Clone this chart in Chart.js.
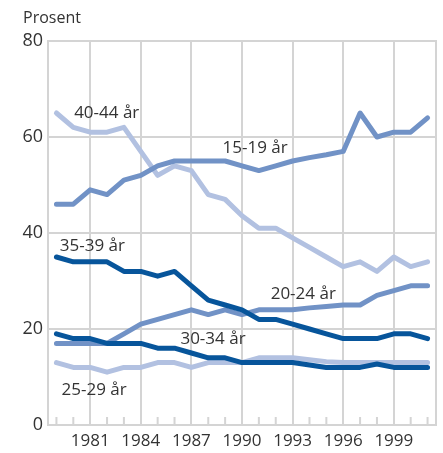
<!DOCTYPE html>
<html>
<head>
<meta charset="utf-8">
<script src="https://cdn.jsdelivr.net/npm/chart.js@4"></script>
<style>
  html, body { margin: 0; padding: 0; background: #fff; }
  #wrap { width: 443px; height: 453px; }
</style>
</head>
<body>
<div id="wrap"><canvas id="chart"></canvas></div>
<script>
// Andel i prosent etter aldersgruppe, 1979-2001
const years = [1979, 1980, 1981, 1982, 1983, 1984, 1985, 1986, 1987, 1988, 1989, 1990,
               1991, 1992, 1993, 1994, 1995, 1996, 1997, 1998, 1999, 2000, 2001];
const age15_19 = [46, 46, 49, 48, 51, 52, 54, 55, 55, 55, 55, 54, 53, 54, 55, 55.7, 56.3, 57, 65, 60, 61, 61, 64];
const age20_24 = [17, 17, 17, 17, 19, 21, 22, 23, 24, 23, 24, 23, 24, 24, 24, 24.4, 24.7, 25, 25, 27, 28, 29, 29];
const age25_29 = [13, 12, 12, 11, 12, 12, 13, 13, 12, 13, 13, 13, 14, 14, 14, 13.6, 13.2, 13, 13, 13, 13, 13, 13];
const age30_34 = [19, 18, 18, 17, 17, 17, 16, 16, 15, 14, 14, 13, 13, 13, 13, 12.5, 12, 12, 12, 12.7, 12, 12, 12];
const age35_39 = [35, 34, 34, 34, 32, 32, 31, 32, 29, 26, 25, 24, 22, 22, 21, 20, 19, 18, 18, 18, 19, 19, 18];
const age40_44 = [65, 62, 61, 61, 62, 57, 52, 54, 53, 48, 47, 43.6, 41, 41, 39, 37, 35, 33, 34, 32, 35, 33, 34];
const yTicks = [0, 20, 40, 60, 80];

// series names written inside the plot, anchored at (year, value) of their top-left area
const seriesLabels = [
  { text: '40-44 år', year: 1980.05, value: 64.9 },
  { text: '15-19 år', year: 1988.85, value: 57.6 },
  { text: '35-39 år', year: 1979.2, value: 37.2 },
  { text: '20-24 år', year: 1991.7, value: 27.3 },
  { text: '30-34 år', year: 1986.35, value: 17.9 },
  { text: '25-29 år', year: 1979.3, value: 7.3 }
];

const dark = '#07559b';
const mid = '#7192c6';
const light = '#b2c1e1';
const gridColor = '#d4d4d4';
const textColor = '#333333';
const fontFamily = '"Open Sans", "Noto Sans", sans-serif';

Chart.defaults.font.family = fontFamily;
Chart.defaults.color = textColor;

function line(data, color) {
  return {
    data: data,
    borderColor: color,
    backgroundColor: color,
    borderWidth: 5,
    pointRadius: 0,
    tension: 0,
    borderCapStyle: 'round',
    borderJoinStyle: 'round'
  };
}

const frame = {
  id: 'frame',
  beforeDatasetsDraw(chart) {
    const { ctx, chartArea: a } = chart;
    const x = chart.scales.x;
    ctx.save();
    ctx.strokeStyle = gridColor;
    ctx.lineWidth = 2;
    ctx.beginPath();
    ctx.moveTo(a.right, a.top - 1);
    ctx.lineTo(a.right, a.bottom);
    years.forEach(yr => {
      if ((yr - 1981) % 3 !== 0) {
        const px = x.getPixelForValue(yr);
        ctx.moveTo(px, a.bottom);
        ctx.lineTo(px, a.bottom - 8);
      }
    });
    ctx.stroke();
    ctx.restore();
  },
  afterDatasetsDraw(chart) {
    const { ctx } = chart;
    const x = chart.scales.x;
    const y = chart.scales.y;
    ctx.save();
    ctx.fillStyle = textColor;
    ctx.font = '17px ' + fontFamily;
    ctx.textAlign = 'left';
    ctx.textBaseline = 'middle';
    seriesLabels.forEach(l => {
      ctx.fillText(l.text, x.getPixelForValue(l.year), y.getPixelForValue(l.value));
    });
    ctx.font = '16px ' + fontFamily;
    ctx.fillText('Prosent', 23, 18);
    ctx.restore();
  }
};

new Chart(document.getElementById('chart'), {
  type: 'line',
  data: {
    labels: years,
    datasets: [
      line(age30_34.map((v, i) => ({ x: years[i], y: v })), dark),
      line(age35_39.map((v, i) => ({ x: years[i], y: v })), dark),
      line(age20_24.map((v, i) => ({ x: years[i], y: v })), mid),
      line(age15_19.map((v, i) => ({ x: years[i], y: v })), mid),
      line(age25_29.map((v, i) => ({ x: years[i], y: v })), light),
      line(age40_44.map((v, i) => ({ x: years[i], y: v })), light)
    ]
  },
  options: {
    responsive: true,
    maintainAspectRatio: false,
    animation: false,
    layout: { padding: { top: 41, right: 7, left: 0, bottom: 0 } },
    plugins: {
      legend: { display: false },
      tooltip: { enabled: false }
    },
    scales: {
      x: {
        type: 'linear',
        min: 1978.5,
        max: 2001.5,
        afterBuildTicks: s => { s.ticks = years.map(v => ({ value: v })); },
        afterFit: s => { s.height = 28; },
        ticks: {
          autoSkip: false,
          maxRotation: 0,
          padding: 6,
          font: { size: 17 },
          color: textColor,
          callback: v => ((v - 1981) % 3 === 0 ? String(v) : '')
        },
        grid: {
          drawTicks: false,
          lineWidth: 2,
          color: c => (c.tick && (c.tick.value - 1981) % 3 === 0 ? gridColor : 'rgba(0,0,0,0)')
        },
        border: { color: gridColor, width: 2 }
      },
      y: {
        min: 0,
        max: 80,
        afterBuildTicks: s => { s.ticks = yTicks.map(v => ({ value: v })); },
        afterFit: s => { s.width = 48; },
        ticks: {
          padding: 5,
          font: { size: 18 },
          color: textColor
        },
        grid: { drawTicks: false, lineWidth: 2, color: gridColor },
        border: { color: gridColor, width: 2 }
      }
    }
  },
  plugins: [frame]
});
</script>
</body>
</html>
